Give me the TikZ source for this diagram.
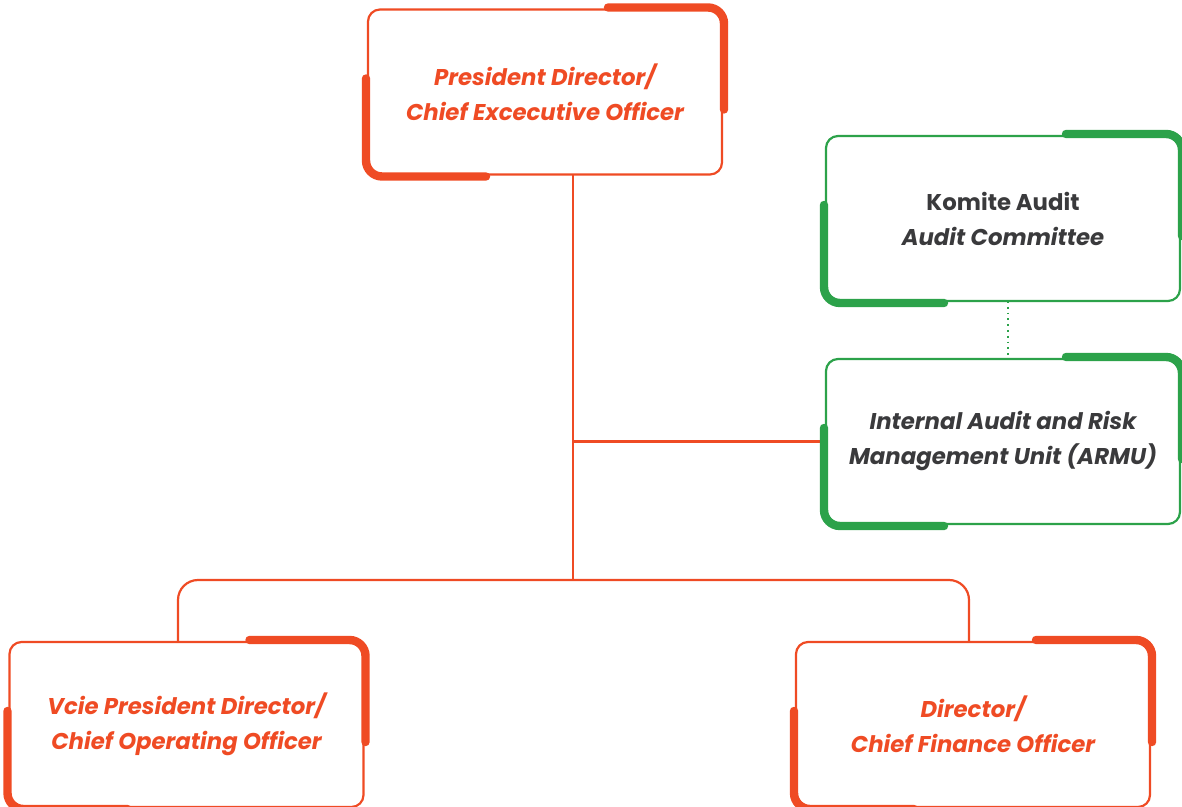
\documentclass[tikz,border=0pt]{standalone}
\usepackage{fontspec}
\setmainfont{Poppins}[UprightFont=* SemiBold, ItalicFont=* SemiBold Italic, BoldFont=* Bold, BoldItalicFont=* Bold Italic]
\usetikzlibrary{positioning}
\definecolor{dirorange}{HTML}{EF4B24}
\definecolor{auditgreen}{HTML}{2CA24A}
\definecolor{auditgray}{HTML}{3A3A3C}
\def\accents#1{%
  ([shift={(240,-2)}]#1.north west) -- ([shift={(2,-2)}]#1.north east) -- ([shift={(2,100)}]#1.north east)
  ([shift={(-2,69)}]#1.north west) -- ([shift={(-2,2)}]#1.south west) -- ([shift={(118,2)}]#1.south west)}
\def\dacc{\draw[line width=4.2pt,line cap=round,rounded corners=8pt]}

\begin{document}
\begin{tikzpicture}[x=0.5pt,y=-0.5pt,
    unit/.style={draw,line width=1.1pt,rounded corners=6pt,minimum width=177pt,minimum height=82.5pt,
      inner sep=0pt,outer sep=0pt,align=center,font=\fontsize{11.4}{17.5}\selectfont\bfseries},
    dirbox/.style={unit,draw=dirorange,text=dirorange},
    auditbox/.style={unit,draw=auditgreen,text=auditgray},
    link/.style={draw=dirorange,line width=1.1pt}]
  \useasboundingbox (0,0) rectangle (1182,807);
  \node[dirbox] (ceo) at (545,92) {\itshape President Director/\\\itshape Chief Excecutive Officer};
  \node[auditbox] (komite) at (1003,218.5) {Komite Audit\\\itshape Audit Committee};
  \node[auditbox] (armu) at (1003,441.5) {\itshape Internal Audit and Risk\\\itshape Management Unit (ARMU)};
  \node[dirbox] (coo) at (186.5,724.5) {\itshape Vcie President Director/\\\itshape Chief Operating Officer};
  \node[dirbox] (cfo) at (973,724.5) {\itshape Director/\\\itshape Chief Finance Officer};
  \coordinate (tap) at (573,441.5);
  \coordinate (split) at (573,580);
  % connectors
  \draw[link] (ceo.south -| split) -- (split);
  \draw[link] (tap) -- (armu.west);
  \draw[link,rounded corners=10pt] ([xshift=-4.25pt]coo.north) |- (split) -| ([xshift=-2pt]cfo.north);
  \draw[auditgreen,line width=0.9pt,dotted] ([xshift=2.5pt]komite.south) -- ([xshift=2.5pt]armu.north);
  % corner accents
  \dacc[dirorange] \accents{ceo};
  \dacc[auditgreen] \accents{komite};
  \dacc[auditgreen] \accents{armu};
  \dacc[dirorange] \accents{coo};
  \dacc[dirorange] \accents{cfo};
\end{tikzpicture}
\end{document}
